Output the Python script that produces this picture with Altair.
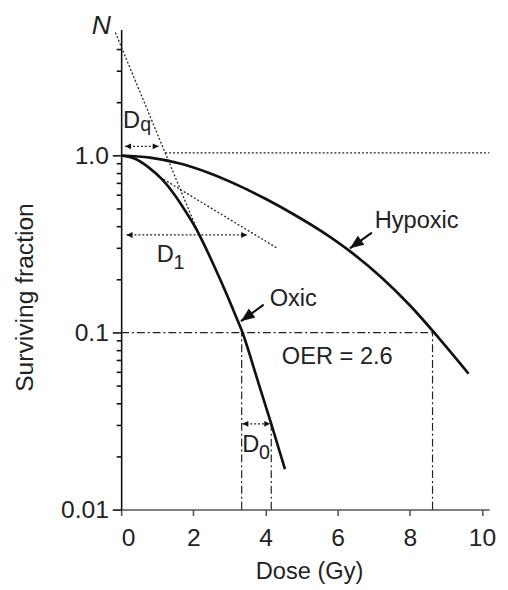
import altair as alt
import pandas as pd

FONT = "Liberation Sans"

# ---- curves ----
oxic_dose = [0, 0.40, 0.76, 1.13, 1.49, 1.81, 2.08, 2.31, 2.58, 2.90, 3.17, 3.35, 3.77, 4.16, 4.54]
oxic_sf = [1.0, 0.955, 0.857, 0.735, 0.597, 0.475, 0.385, 0.311, 0.237, 0.169, 0.125, 0.1016, 0.0547, 0.0305, 0.0169]
hypoxic_dose = [0, 0.8, 1.6, 2.4, 3.2, 4.0, 4.8, 5.6, 6.4, 7.2, 8.0, 8.8, 9.63]
hypoxic_sf = [1.0, 0.973, 0.904, 0.802, 0.685, 0.570, 0.463, 0.368, 0.282, 0.206, 0.1426, 0.0933, 0.0585]

# ---- dotted construction lines ----
dot_id = ["steep", "steep", "shallow", "shallow", "unity", "unity", "dq", "dq", "d1", "d1", "d0", "d0"]
dot_x = [-0.16, 2.23, 0.99, 4.32, 1.22, 10.2, 0.11, 1.04, 0.15, 3.49, 3.36, 4.13]
dot_y = [4.95, 0.33, 0.774, 0.30, 1.034, 1.034, 1.127, 1.127, 0.356, 0.356, 0.0305, 0.0305]

# ---- dash-dot lines ----
dd_id = ["h", "h", "v1", "v1", "v2", "v2", "v3", "v3"]
dd_x = [0, 8.63, 3.34, 3.34, 4.16, 4.16, 8.63, 8.63]
dd_y = [0.1, 0.1, 0.01, 0.1, 0.01, 0.0305, 0.01, 0.1]

# ---- small arrow heads of the double arrows ----
head_x = [0.11, 1.04, 0.15, 3.49, 3.36, 4.13]
head_y = [1.127, 1.127, 0.356, 0.356, 0.0305, 0.0305]
head_angle = [270, 90, 270, 90, 270, 90]

# ---- label arrows ----
arrow_id = ["hyp", "hyp", "oxi", "oxi"]
arrow_x = [6.95, 6.34, 3.95, 3.32]
arrow_y = [0.367, 0.299, 0.1436, 0.116]
tip_x = [6.34, 3.32]
tip_y = [0.299, 0.116]

# ---- text labels ----
lab_text = ["D", "q", "D", "1", "D", "0", "Hypoxic", "Oxic", "OER = 2.6"]
lab_x = [0.29, 0.68, 1.22, 1.60, 3.59, 3.97, 8.19, 4.77, 5.99]
lab_y = [1.436, 1.377, 0.25, 0.2296, 0.0211, 0.01935, 0.391, 0.1406, 0.0667]
lab_size = [24, 20, 24, 20, 24, 20, 24, 24, 24]

n_text = ["N"]
n_x = [-0.55]
n_y = [4.84]

# ---- axes ----
x_ticks = [0, 2, 4, 6, 8, 10]
y_major = [0.01, 0.1, 1]
y_minor = [0.02, 0.03, 0.04, 0.05, 0.06, 0.07, 0.08, 0.09,
           0.2, 0.3, 0.4, 0.5, 0.6, 0.7, 0.8, 0.9, 2, 3, 4]
x_domain = [0, 10.2]
y_domain = [0.01, 5.16]

XS = alt.Scale(domain=x_domain, nice=False, zero=False)
YS = alt.Scale(type="log", domain=y_domain, nice=False)


def Xp():
    return alt.X("x:Q", scale=XS)


def Yp():
    return alt.Y("y:Q", scale=YS)


curves = pd.DataFrame({
    "x": oxic_dose + hypoxic_dose,
    "y": oxic_sf + hypoxic_sf,
    "id": ["oxic"] * len(oxic_dose) + ["hypoxic"] * len(hypoxic_dose),
})
curves["ord"] = range(len(curves))

dots = pd.DataFrame({"x": dot_x, "y": dot_y, "id": dot_id})
dots["ord"] = range(len(dots))
dd = pd.DataFrame({"x": dd_x, "y": dd_y, "id": dd_id})
dd["ord"] = range(len(dd))
heads = pd.DataFrame({"x": head_x, "y": head_y, "a": head_angle})
arrows = pd.DataFrame({"x": arrow_x, "y": arrow_y, "id": arrow_id})
arrows["ord"] = range(len(arrows))
tips = pd.DataFrame({"x": tip_x, "y": tip_y})
labels = pd.DataFrame({"x": lab_x, "y": lab_y, "t": lab_text, "s": lab_size})
nlab = pd.DataFrame({"x": n_x, "y": n_y, "t": n_text})

# invisible layer that carries the axis values and titles
axis_layer = alt.Chart(dd).mark_line(opacity=0).encode(
    x=alt.X("x:Q", scale=XS, axis=alt.Axis(values=x_ticks, title="Dose (Gy)")),
    y=alt.Y("y:Q", scale=YS, axis=alt.Axis(
        values=y_major, title="Surviving fraction",
        labelExpr="datum.value == 1 ? '1.0' : (datum.value == 0.1 ? '0.1' : '0.01')")),
    detail="id:N", order="ord:Q")

dd_layer = alt.Chart(dd).mark_line(color="#222", strokeWidth=1.2, strokeDash=[8, 3, 2, 3]).encode(
    x=Xp(), y=Yp(), detail="id:N", order="ord:Q")

dot_layer = alt.Chart(dots).mark_line(color="#222", strokeWidth=1.3, strokeDash=[2, 2]).encode(
    x=Xp(), y=Yp(), detail="id:N", order="ord:Q")

curve_layer = alt.Chart(curves).mark_line(color="#111", strokeWidth=2.7, interpolate="monotone").encode(
    x=Xp(), y=Yp(), detail="id:N", order="ord:Q")

head_layer = alt.Chart(heads).mark_point(
    shape="M0,0 L-1,2 L1,2 Z", filled=True, size=36, color="#111", opacity=1, strokeWidth=0
).encode(x=Xp(), y=Yp(), angle=alt.Angle("a:Q", scale=None))

arrow_layer = alt.Chart(arrows).mark_line(color="#111", strokeWidth=2.2).encode(
    x=Xp(), y=Yp(), detail="id:N", order="ord:Q")

tip_layer = alt.Chart(tips).mark_point(
    shape="M0,0 L-0.8,2 L0.8,2 Z", filled=True, size=196, angle=234, color="#111", opacity=1, strokeWidth=0
).encode(x=Xp(), y=Yp())

text_layer = alt.Chart(labels).mark_text(
    font=FONT, align="center", baseline="alphabetic", color="#222"
).encode(x=Xp(), y=Yp(), text="t:N", size=alt.Size("s:Q", scale=None))

n_layer = alt.Chart(nlab).mark_text(
    font=FONT, fontStyle="italic", fontSize=27, align="center", baseline="alphabetic", color="#222"
).encode(x=Xp(), y=Yp(), text="t:N")

main = alt.layer(
    axis_layer, dd_layer, dot_layer, curve_layer, head_layer, arrow_layer, tip_layer, text_layer, n_layer
)

minor_layer = alt.Chart(dd).mark_line(opacity=0).encode(
    x=Xp(),
    y=alt.Y("y:Q", scale=YS, axis=alt.Axis(
        values=y_minor, title=None, orient="left",
        tickSize=5, tickColor="#111", tickWidth=1.6, domain=False, labels=False)),
    detail="id:N", order="ord:Q")

chart = alt.layer(main, minor_layer).resolve_scale(y="independent").properties(
    width=374, height=488,
    autosize=alt.AutoSizeParams(type="none"),
    padding={"left": 115, "top": 17, "right": 11, "bottom": 77},
).configure_axis(
    grid=False, labelFont=FONT, titleFont=FONT, labelColor="#222", titleColor="#222",
    titleFontWeight="normal", labelFontSize=25,
).configure_axisX(
    tickSize=6, tickColor="#555", tickWidth=1.6, domainColor="#555", domainWidth=1.6,
    labelBaseline="alphabetic", labelPadding=31, titleFontSize=24,
    titleX=191, titleY=70, titleBaseline="alphabetic", titleAlign="center",
).configure_axisY(
    tickSize=9, tickColor="#111", tickWidth=1.6, domainColor="#111", domainWidth=1.6,
    labelPadding=4, titleFontSize=25, titleAngle=270, titleX=-90, titleY=272,
    titleBaseline="alphabetic", titleAlign="center",
).configure_view(stroke=None)

chart.save("out.html", embed_options={"renderer": "svg", "actions": False})
